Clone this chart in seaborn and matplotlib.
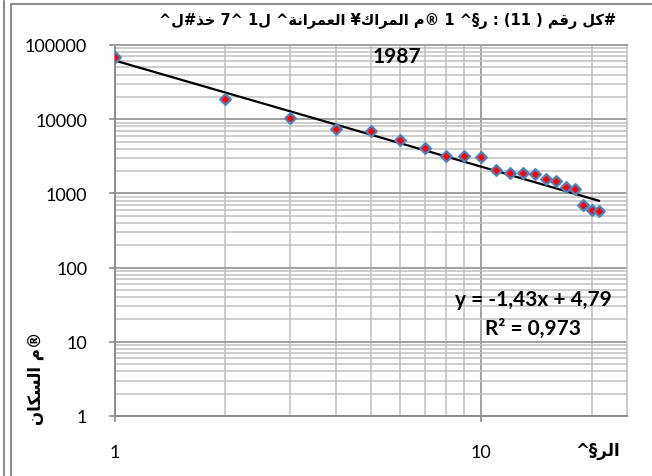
import re
import numpy as np
import pandas as pd
import seaborn as sns
import matplotlib
matplotlib.use("Agg")
import matplotlib.pyplot as plt
from matplotlib.lines import Line2D
from matplotlib.ticker import LogLocator, NullFormatter, FixedLocator, FixedFormatter

# ---- data -------------------------------------------------------------
ranks = list(range(1, 22))
population = [68200, 18700, 10400, 7380, 6870, 5200, 4060, 3190, 3190, 3060,
              2070, 1880, 1870, 1800, 1540, 1465, 1220, 1150, 705, 592, 585]

# power-law trend (log10 y = slope * log10 x + intercept)
trend_slope = -1.43
trend_intercept = 4.79
r_squared = "0,973"

x_ticks = [1, 10]
x_tick_labels = ["1", "10"]
y_ticks = [1, 10, 100, 1000, 10000, 100000]
y_tick_labels = ["1", "10", "100", "1000", "10000", "100000"]

title_text = "#كل رقم ( 11) : ر§^ 1 ®م المراك¥ العمرانة^ ل1 ^7 خذ#ل^"
year_text = "1987"
x_label_text = "الر§^"
y_label_text = "®م السكان"

# ---- minimal Arabic shaping (presentation forms, visual order) --------
FORMS = {
    'ا': (0xFE8D, 0xFE8E, None, None),
    'ر': (0xFEAD, 0xFEAE, None, None),
    'ز': (0xFEAF, 0xFEB0, None, None),
    'ذ': (0xFEAB, 0xFEAC, None, None),
    'ة': (0xFE93, 0xFE94, None, None),
    'ك': (0xFED9, 0xFEDA, 0xFEDB, 0xFEDC),
    'ل': (0xFEDD, 0xFEDE, 0xFEDF, 0xFEE0),
    'ق': (0xFED5, 0xFED6, 0xFED7, 0xFED8),
    'م': (0xFEE1, 0xFEE2, 0xFEE3, 0xFEE4),
    'ع': (0xFEC9, 0xFECA, 0xFECB, 0xFECC),
    'ن': (0xFEE5, 0xFEE6, 0xFEE7, 0xFEE8),
    'س': (0xFEB1, 0xFEB2, 0xFEB3, 0xFEB4),
    'خ': (0xFEA5, 0xFEA6, 0xFEA7, 0xFEA8),
}


def rtl(text):
    chars = list(text)
    out = []
    for i, c in enumerate(chars):
        if c in FORMS:
            f = FORMS[c]
            prev = chars[i - 1] if i > 0 else ''
            nxt = chars[i + 1] if i + 1 < len(chars) else ''
            jp = prev in FORMS and FORMS[prev][2] is not None
            jn = f[2] is not None and nxt in FORMS
            if jp and jn:
                g = f[3]
            elif jp:
                g = f[1]
            elif jn:
                g = f[2]
            else:
                g = f[0]
            out.append(chr(g))
        else:
            out.append(c)
    runs = re.findall(r'[0-9]+|[^0-9]', ''.join(out))[::-1]
    mirror = {'(': ')', ')': '('}
    return ''.join(mirror.get(r, r) for r in runs)


# ---- figure -----------------------------------------------------------
sns.set_theme(style="white")
plt.rcParams['font.family'] = ['Lato', 'DejaVu Sans']

W, H = 652, 477
fig = plt.figure(figsize=(W / 100, H / 100), dpi=100)
fig.patch.set_facecolor("white")


def fx(px):
    return px / W


def fy(py):
    return 1 - py / H


ax = fig.add_axes([fx(115), fy(417), fx(627) - fx(115), fy(46) - fy(417)])

df = pd.DataFrame({"rank": ranks, "population": population})

ax.set_xscale("log")
ax.set_yscale("log")
ax.set_xlim(1, 25)
ax.set_ylim(1, 100000)

# gridlines
major_c, minor_c = "#a0a0a0", "#c0c0c0"
ax.yaxis.set_major_locator(FixedLocator(y_ticks))
ax.yaxis.set_major_formatter(FixedFormatter(y_tick_labels))
ax.yaxis.set_minor_locator(LogLocator(base=10, subs=np.arange(2, 10)))
ax.yaxis.set_minor_formatter(NullFormatter())
ax.xaxis.set_major_locator(FixedLocator(x_ticks))
ax.xaxis.set_major_formatter(FixedFormatter(x_tick_labels))
ax.xaxis.set_minor_locator(LogLocator(base=10, subs=np.arange(2, 10)))
ax.xaxis.set_minor_formatter(NullFormatter())
ax.grid(which="major", color=major_c, linewidth=1.4)
ax.grid(which="minor", color=minor_c, linewidth=1.1)
ax.set_axisbelow(True)

for side in ["left", "bottom"]:
    ax.spines[side].set_color("#8c8c8c")
    ax.spines[side].set_linewidth(1.4)
ax.spines["top"].set_color(major_c)
ax.spines["top"].set_linewidth(1.4)
ax.spines["right"].set_color(minor_c)
ax.spines["right"].set_linewidth(1.1)

ax.tick_params(axis="y", which="major", direction="out", length=4, width=1.2,
               color="#8c8c8c", left=True, pad=16, labelsize=13, labelcolor="black")
ax.tick_params(axis="x", which="major", direction="out", length=4, width=1.2,
               color="#8c8c8c", bottom=True, pad=16, labelsize=13, labelcolor="black")
ax.tick_params(which="minor", length=0)

# trend line from the stated equation
trend_x = np.array([1.0, 21.0])
trend_y = 10 ** (trend_intercept + trend_slope * np.log10(trend_x))
sns.lineplot(x=trend_x, y=trend_y, ax=ax, color="black", linewidth=1.6, zorder=3)

# observations
sns.scatterplot(data=df, x="rank", y="population", ax=ax, marker="D", s=30,
                color="#ff0000", edgecolor="#4f81bd", linewidth=1.6, zorder=4)

ax.set_xlabel("")
ax.set_ylabel("")

# annotations
fig.text(fx(397), fy(57), year_text, ha="center", va="center",
         fontsize=15, fontweight="bold", color="black")
fig.text(fx(533), fy(300), "y = -1,43x + 4,79", ha="center", va="center",
         fontsize=15, fontweight="bold", color="black")
fig.text(fx(533), fy(329), "R² = " + r_squared, ha="center", va="center",
         fontsize=15, fontweight="bold", color="black")

arab = ['DejaVu Sans']
fig.text(fx(388), fy(21), rtl(title_text), ha="center", va="center",
         fontsize=10.5, fontweight="bold", family=arab, color="black")
fig.text(fx(598), fy(451), rtl(x_label_text), ha="center", va="center",
         fontsize=12, fontweight="bold", family=arab, color="black")
fig.text(fx(35), fy(378), rtl(y_label_text), ha="center", va="center",
         rotation=90, fontsize=12, fontweight="bold", family=arab, color="black")

# chart frame
frame_c = "#8c8c8c"
fig.add_artist(Line2D([fx(3.5), fx(3.5)], [fy(2), fy(477)], color=frame_c, lw=1.5))
fig.add_artist(Line2D([fx(11), fx(11)], [fy(4.5), fy(477)], color=frame_c, lw=1.5))
fig.add_artist(Line2D([fx(11), fx(652)], [fy(4.5), fy(4.5)], color=frame_c, lw=1.5))

fig.savefig("out.png", dpi=100)
